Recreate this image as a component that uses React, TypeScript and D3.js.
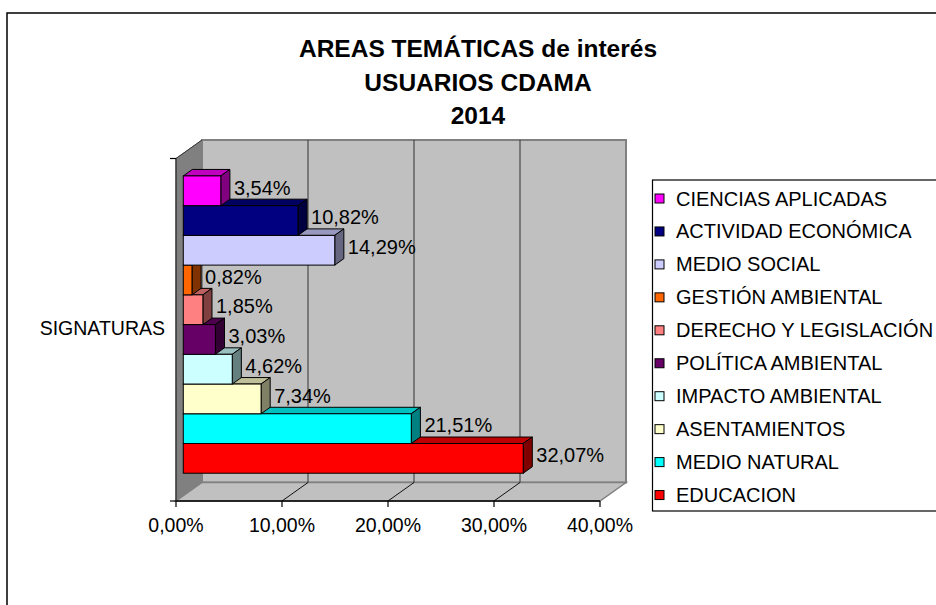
import React, { useEffect, useRef } from 'react';
import * as d3 from 'd3';

const categories = [
  'CIENCIAS APLICADAS', 'ACTIVIDAD ECONÓMICA', 'MEDIO SOCIAL', 'GESTIÓN AMBIENTAL',
  'DERECHO Y LEGISLACIÓN', 'POLÍTICA AMBIENTAL', 'IMPACTO AMBIENTAL', 'ASENTAMIENTOS',
  'MEDIO NATURAL', 'EDUCACION'
];
const values = [3.54, 10.82, 14.29, 0.82, 1.85, 3.03, 4.62, 7.34, 21.51, 32.07];
const colors = [
  '#FF00FF', '#000080', '#CCCCFF', '#FF6600', '#FF8080',
  '#660066', '#CCFFFF', '#FFFFCC', '#00FFFF', '#FF0000'
];
const tickValues = [0, 10, 20, 30, 40];
const titleLines = ['AREAS TEMÁTICAS de interés', 'USUARIOS CDAMA', '2014'];
const axisLabel = 'SIGNATURAS';

const FONT = 'Liberation Sans, Arial, sans-serif';

const pct = (v: number) => d3.format('.2f')(v).replace('.', ',') + '%';
const shade = (c: string, k: number) => {
  const r = d3.rgb(c);
  return d3.rgb(r.r * k, r.g * k, r.b * k).formatHex();
};

const App = () => {
  const ref = useRef<SVGSVGElement>(null);

  useEffect(() => {
    const svg = d3.select(ref.current);
    svg.selectAll('*').remove();

    // outer chart area
    svg.append('rect')
      .attr('x', 7).attr('y', 13).attr('width', 1000).attr('height', 700)
      .attr('fill', 'white').attr('stroke', 'black').attr('stroke-width', 1.5);

    // title, centred over the whole chart area
    svg.append('g').selectAll('text')
      .data(titleLines)
      .enter().append('text')
      .attr('x', 478)
      .attr('y', (d, i) => 57 + i * 33.5)
      .attr('text-anchor', 'middle')
      .style('font-family', FONT)
      .style('font-weight', 'bold')
      .style('font-size', '24.5px')
      .text(d => d);

    // 3d frame
    const left = 176, right = 600, top = 158.5, bottom = 501;
    const ddx = 26, ddy = -18.5;
    const x = d3.scaleLinear().domain([0, 40]).range([left, right]);
    const y = d3.scaleBand().domain(categories).range([top, bottom])
      .paddingInner(0).paddingOuter(0.76);

    const poly = (pts: number[][]) => pts.map(p => p.join(',')).join(' ');

    const frame = svg.append('g');
    // back wall
    frame.append('polygon')
      .attr('points', poly([[left + ddx, top + ddy], [right + ddx, top + ddy], [right + ddx, bottom + ddy], [left + ddx, bottom + ddy]]))
      .attr('fill', '#C0C0C0').attr('stroke', '#808080').attr('stroke-width', 2);
    // left wall
    frame.append('polygon')
      .attr('points', poly([[left, top], [left + ddx, top + ddy], [left + ddx, bottom + ddy], [left, bottom]]))
      .attr('fill', '#808080').attr('stroke', '#808080');
    // floor
    frame.append('polygon')
      .attr('points', poly([[left, bottom], [right, bottom], [right + ddx, bottom + ddy], [left + ddx, bottom + ddy]]))
      .attr('fill', '#C0C0C0').attr('stroke', '#808080').attr('stroke-width', 1.5);

    // gridlines
    const inner = tickValues.slice(1, -1);
    frame.selectAll('line.gv').data(inner).enter().append('line')
      .attr('x1', d => x(d) + ddx).attr('x2', d => x(d) + ddx)
      .attr('y1', top + ddy).attr('y2', bottom + ddy)
      .attr('stroke', '#333').attr('stroke-width', 1);
    frame.selectAll('line.gf').data(inner).enter().append('line')
      .attr('x1', d => x(d)).attr('x2', d => x(d) + ddx)
      .attr('y1', bottom).attr('y2', bottom + ddy)
      .attr('stroke', '#111').attr('stroke-width', 1);

    // axes
    frame.append('line')
      .attr('x1', left).attr('x2', right).attr('y1', bottom).attr('y2', bottom)
      .attr('stroke', 'black').attr('stroke-width', 1.5);
    frame.append('line')
      .attr('x1', left).attr('x2', left).attr('y1', top).attr('y2', bottom)
      .attr('stroke', '#222').attr('stroke-width', 1.2);
    frame.append('line')
      .attr('x1', left).attr('x2', left + ddx).attr('y1', top).attr('y2', top + ddy)
      .attr('stroke', '#333').attr('stroke-width', 1);
    frame.selectAll('line.ty').data([top, bottom]).enter().append('line')
      .attr('x1', left - 6).attr('x2', left).attr('y1', d => d).attr('y2', d => d)
      .attr('stroke', 'black').attr('stroke-width', 1.2);
    frame.selectAll('line.tx').data(tickValues).enter().append('line')
      .attr('x1', d => x(d)).attr('x2', d => x(d)).attr('y1', bottom).attr('y2', bottom + 6)
      .attr('stroke', 'black').attr('stroke-width', 1.2);
    frame.selectAll('text.tx').data(tickValues).enter().append('text')
      .attr('x', d => x(d)).attr('y', 532)
      .attr('text-anchor', 'middle')
      .style('font-family', FONT).style('font-size', '19.5px')
      .text(d => pct(d));
    frame.append('text')
      .attr('x', 165).attr('y', 328).attr('dy', '0.35em')
      .attr('text-anchor', 'end')
      .style('font-family', FONT).style('font-size', '19.5px')
      .text(axisLabel);

    // bars, bottom first so upper bars overlap
    const d0x = ddx * 0.28, d0y = ddy * 0.28;
    const bdx = ddx * 0.35, bdy = ddy * 0.35;
    const h = y.bandwidth();
    const order = d3.range(categories.length).reverse();
    const bars = svg.append('g');
    order.forEach(i => {
      const g = bars.append('g');
      const x0 = x(0) + d0x, x1 = x(values[i]) + d0x;
      const y0 = (y(categories[i]) as number) + d0y;
      g.append('polygon')
        .attr('points', poly([[x0, y0], [x1, y0], [x1 + bdx, y0 + bdy], [x0 + bdx, y0 + bdy]]))
        .attr('fill', shade(colors[i], 0.75)).attr('stroke', 'black').attr('stroke-width', 1);
      g.append('polygon')
        .attr('points', poly([[x1, y0], [x1 + bdx, y0 + bdy], [x1 + bdx, y0 + h + bdy], [x1, y0 + h]]))
        .attr('fill', shade(colors[i], 0.5)).attr('stroke', 'black').attr('stroke-width', 1);
      g.append('rect')
        .attr('x', x0).attr('y', y0).attr('width', x1 - x0).attr('height', h)
        .attr('fill', colors[i]).attr('stroke', 'black').attr('stroke-width', 1);
    });
    bars.selectAll('text').data(categories).enter().append('text')
      .attr('x', (d, i) => x(values[i]) + d0x + bdx + 4)
      .attr('y', d => (y(d) as number) + d0y + h / 2 + bdy / 2)
      .attr('dy', '0.35em')
      .style('font-family', FONT).style('font-size', '20px')
      .text((d, i) => pct(values[i]));

    // legend
    const legend = svg.append('g');
    legend.append('rect')
      .attr('x', 652.5).attr('y', 180).attr('width', 400).attr('height', 331)
      .attr('fill', 'white').attr('stroke', 'black').attr('stroke-width', 1.2);
    const item = legend.selectAll('g.item').data(categories).enter().append('g')
      .attr('transform', (d, i) => `translate(655, ${198.5 + i * 32.95})`);
    item.append('rect')
      .attr('x', 0).attr('y', -4.5).attr('width', 9).attr('height', 9)
      .attr('fill', (d, i) => colors[i]).attr('stroke', 'black').attr('stroke-width', 1);
    item.append('text')
      .attr('x', 21).attr('dy', '0.35em')
      .style('font-family', FONT).style('font-size', '20px')
      .text(d => d);
  }, []);

  return (
    <svg
      ref={ref}
      width={936}
      height={605}
      style={{ position: 'absolute', left: 0, top: 0, display: 'block' }}
    />
  );
};

export default App;
